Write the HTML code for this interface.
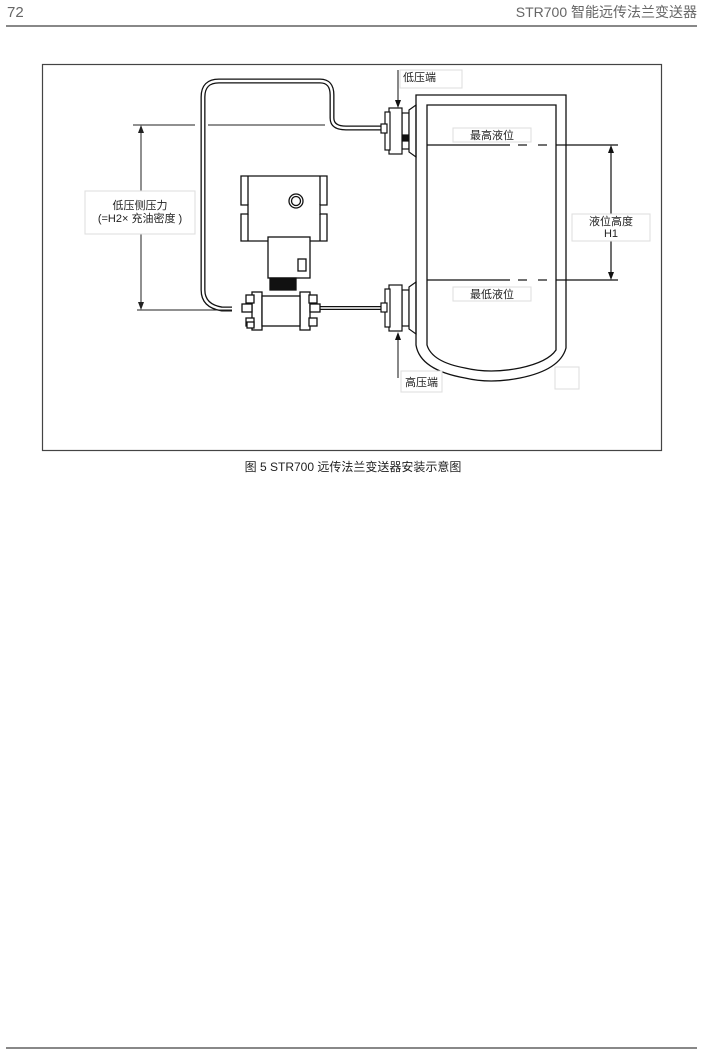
<!DOCTYPE html>
<html><head><meta charset="utf-8"><style>
body{margin:0;background:#fff;width:702px;height:1054px;overflow:hidden;font-family:"Liberation Sans","Noto Sans CJK SC",sans-serif;}
svg{position:absolute;left:0;top:0}
</style></head><body>
<svg width="702" height="1054" viewBox="0 0 702 1054" font-family="Liberation Sans, Noto Sans CJK SC, sans-serif">
<text x="7" y="17" font-size="15" fill="#666">72</text>
<text x="697" y="17" font-size="14" fill="#666" text-anchor="end">STR700 智能远传法兰变送器</text>
<line x1="6" y1="26" x2="697" y2="26" stroke="#888" stroke-width="2"/>
<line x1="6" y1="1048" x2="697" y2="1048" stroke="#888" stroke-width="2"/>
<rect x="42.5" y="64.5" width="619" height="386" fill="none" stroke="#444" stroke-width="1.2"/>

<g fill="none">
<path d="M232 309 L222 309 Q203 306 203 290 L203 97 Q203 81 219 81 L320 81 Q332 81 332 95 L332 118 Q332 128 346 128 L384 128" stroke="#111" stroke-width="5"/>
<path d="M232 309 L222 309 Q203 306 203 290 L203 97 Q203 81 219 81 L320 81 Q332 81 332 95 L332 118 Q332 128 346 128 L384 128" stroke="#fff" stroke-width="2.4"/>
<path d="M318 308 L385 308" stroke="#111" stroke-width="4"/>
<path d="M318 308 L385 308" stroke="#fff" stroke-width="1.6"/>
</g>

<g stroke="#222" stroke-width="1">
<line x1="133" y1="125" x2="195" y2="125"/><line x1="208" y1="125" x2="325" y2="125"/>
<line x1="137" y1="310" x2="232" y2="310"/>
<line x1="141" y1="130" x2="141" y2="305"/>
</g>
<polygon points="141,125 138,133 144,133" fill="#222"/>
<polygon points="141,310 138,302 144,302" fill="#222"/>
<rect x="85" y="191" width="110" height="43" fill="#fff" stroke="#ddd"/>
<text x="140" y="209" font-size="11" text-anchor="middle" fill="#222">低压侧压力</text>
<text x="140" y="222" font-size="11" text-anchor="middle" fill="#222">(=H2× 充油密度 )</text>

<g stroke="#111" stroke-width="1.3" fill="#fff">
<path d="M241 176 L327 176 L327 205 L320 205 L320 214 L327 214 L327 241 L241 241 L241 214 L248 214 L248 205 L241 205 Z"/>
<line x1="248" y1="176" x2="248" y2="205"/><line x1="320" y1="176" x2="320" y2="205"/>
<line x1="248" y1="214" x2="248" y2="241"/><line x1="320" y1="214" x2="320" y2="241"/>
<circle cx="296" cy="201" r="7"/><circle cx="296" cy="201" r="4.5"/>
<rect x="268" y="237" width="42" height="41"/>
<rect x="298" y="259" width="8" height="12"/>
<rect x="270" y="278" width="26" height="12" fill="#111"/>
<rect x="252" y="292" width="10" height="38"/>
<rect x="300" y="292" width="10" height="38"/>
<rect x="262" y="296" width="38" height="30"/>
<rect x="246" y="295" width="8" height="8"/><rect x="246" y="318" width="8" height="8"/>
<rect x="309" y="295" width="8" height="8"/><rect x="309" y="318" width="8" height="8"/>
<rect x="242" y="304" width="10" height="8"/><rect x="310" y="304" width="10" height="8"/>
<rect x="247" y="322" width="7" height="6"/>
</g>

<g stroke="#111" stroke-width="1.2" fill="#fff">
<g>
<rect x="402" y="113" width="7" height="36"/>
<rect x="389" y="108" width="13" height="46"/>
<rect x="385" y="112" width="5" height="38"/>
<rect x="381" y="124" width="6" height="9"/>
<rect x="403" y="135" width="5" height="6" fill="#111"/>
<path d="M409 110 L416 105 L416 157 L409 152 Z"/>
</g>
<g>
<rect x="402" y="290" width="7" height="36"/>
<rect x="389" y="285" width="13" height="46"/>
<rect x="385" y="289" width="5" height="38"/>
<rect x="381" y="303" width="6" height="9"/>
<path d="M409 287 L416 282 L416 334 L409 329 Z"/>
</g>
</g>

<g fill="none" stroke="#111" stroke-width="1.3">
<path d="M416 95 L566 95 L566 348 Q560 370 520 378 Q490 384 465 378 Q420 370 416 345 Z"/>
<path d="M427 105 L556 105 L556 350 Q548 362 520 368 Q490 374 465 368 Q432 362 427 345 Z"/>
</g>
<g stroke="#111" stroke-width="1.2">
<line x1="427" y1="145" x2="510" y2="145"/><line x1="518" y1="145" x2="527" y2="145"/><line x1="538" y1="145" x2="547" y2="145"/><line x1="556" y1="145" x2="618" y2="145"/>
<line x1="427" y1="280" x2="510" y2="280"/><line x1="518" y1="280" x2="527" y2="280"/><line x1="538" y1="280" x2="547" y2="280"/><line x1="556" y1="280" x2="618" y2="280"/>
<line x1="611" y1="150" x2="611" y2="275"/>
</g>
<polygon points="611,145 608,153 614,153" fill="#111"/>
<polygon points="611,280 608,272 614,272" fill="#111"/>
<rect x="453" y="128" width="78" height="14" fill="#fff" stroke="#ddd"/>
<text x="492" y="139" font-size="11" text-anchor="middle" fill="#222">最高液位</text>
<rect x="453" y="287" width="78" height="14" fill="#fff" stroke="#ddd"/>
<text x="492" y="298" font-size="11" text-anchor="middle" fill="#222">最低液位</text>
<rect x="572" y="214" width="78" height="27" fill="#fff" stroke="#ddd"/>
<text x="611" y="225" font-size="11" text-anchor="middle" fill="#222">液位高度</text>
<text x="611" y="237" font-size="11" text-anchor="middle" fill="#222">H1</text>

<rect x="400" y="70" width="62" height="18" fill="#fff" stroke="#ddd"/>
<text x="403" y="81" font-size="11" fill="#222">低压端</text>
<line x1="398" y1="70" x2="398" y2="101" stroke="#111"/>
<polygon points="398,108 395,100 401,100" fill="#111"/>
<line x1="398" y1="340" x2="398" y2="378" stroke="#111"/>
<polygon points="398,332 395,340 401,340" fill="#111"/>
<rect x="401" y="371" width="41" height="21" fill="#fff" stroke="#ddd"/>
<text x="405" y="386" font-size="11" fill="#222">高压端</text>
<rect x="555" y="367" width="24" height="22" fill="#fff" stroke="#ddd"/>

<text x="353" y="471" font-size="12" text-anchor="middle" fill="#222">图 5  STR700 远传法兰变送器安装示意图</text>
</svg>
</body></html>
